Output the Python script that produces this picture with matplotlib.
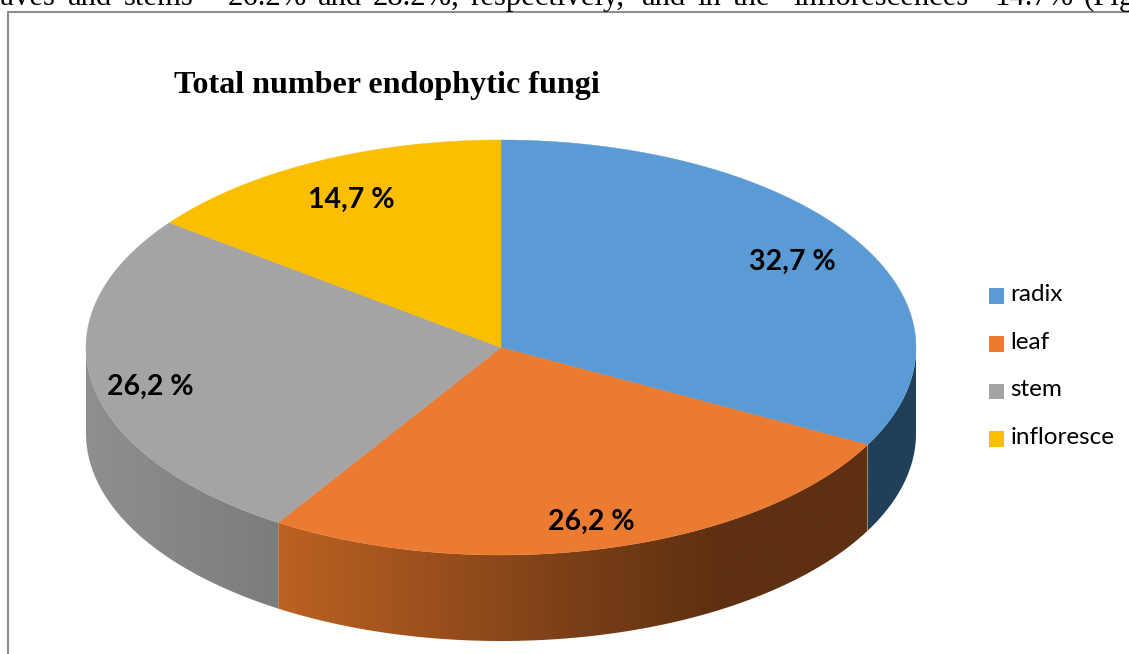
#!/usr/bin/env python3
"""Pseudo-3D pie of endophytic fungi by plant organ."""
import numpy as np
import matplotlib
matplotlib.use("Agg")
import matplotlib.pyplot as plt
from matplotlib.colors import LinearSegmentedColormap
from matplotlib.legend_handler import HandlerPatch
from matplotlib.patches import Patch, Polygon, Rectangle

categories = ["radix", "leaf", "stem", "infloresce"]
shares = [32.7, 26.2, 26.2, 14.7]
colors = ["#5B9BD5", "#EB7B30", "#A4A4A4", "#FCBE00"]
label_radius = [0.82, 0.857, 0.86, 0.81]
label_nudge = [2.5, 2, 8, 3]
# side wall shades, left to right
side_shades = [
    ["#213F58", "#213F58"],
    ["#BC6222", "#9C501D", "#7A3F17", "#5E3011", "#5E3011"],
    ["#8F8F8F", "#7C7C7C"],
    ["#000000", "#000000"],
]

title = "Total number endophytic fungi"
body_words = ["leaves", "and", "stems", "–", "26.2%", "and", "28.2%,", "respectively,",
              "and", "in", "the", "inflorescences", "–", "14.7%", "(Fig"]
# the running text is justified in the original, so each word has its own start
body_word_x = [-22, 68, 124, 203, 228, 318, 373, 470, 642, 697, 733, 793, 968, 994, 1084]

CX, CY, RX, RY, DEPTH = 501, 347.5, 415, 207.5, 86


def rim(a, b, dy=0, n=200):
    """Ellipse points between two angles, clockwise from 12 o'clock."""
    t = np.radians(np.linspace(a, b, n))
    return np.column_stack([CX + RX * np.sin(t), CY - RY * np.cos(t) + dy])


def low_square(legend, orig_handle, xdescent, ydescent, width, height, fontsize):
    # squares sit a little below the text baseline in the original
    return Rectangle((-xdescent, -ydescent - 2.5), width, height)


fig = plt.figure(figsize=(11.29, 6.54), dpi=100)
ax = fig.add_axes([0, 0, 1, 1])
ax.axis("off")

edges = np.concatenate([[0], np.cumsum(shares)]) / sum(shares) * 360

# side walls, only the front half shows
for i in range(len(shares)):
    a, b = max(edges[i], 90), min(edges[i + 1], 270)
    if a >= b:
        continue
    outline = np.vstack([rim(a, b), rim(b, a, DEPTH)])
    patch = Polygon(outline, closed=True, fc="none", ec="none")
    ax.add_patch(patch)
    cmap = LinearSegmentedColormap.from_list("side", side_shades[i])
    x0, x1 = outline[:, 0].min(), outline[:, 0].max()
    im = ax.imshow(np.linspace(0, 1, 256)[None, :], cmap=cmap, aspect="auto",
                   extent=[x0, x1, CY + RY + DEPTH + 1, CY - 1], zorder=1)
    im.set_clip_path(patch)

# top face
for i in range(len(shares)):
    pts = np.vstack([[CX, CY], rim(edges[i], edges[i + 1])])
    ax.add_patch(Polygon(pts, closed=True, fc=colors[i], ec=colors[i], lw=0.3, zorder=2))

for i, v in enumerate(shares):
    mid = np.radians((edges[i] + edges[i + 1]) / 2)
    ax.text(CX + label_radius[i] * RX * np.sin(mid),
            CY - label_radius[i] * RY * np.cos(mid) + label_nudge[i],
            f"{v:.1f} %".replace(".", ","), ha="center", va="center",
            fontsize=20.5, fontweight="bold", family="Lato", color="black", zorder=3)

# page around the chart
ax.plot([8, 8, 1129], [654, 12, 12], color="#8E8E8E", lw=1.5, zorder=4, solid_joinstyle="miter")
for word, x in zip(body_words, body_word_x):
    ax.text(x, 5, word, family="Liberation Serif", fontsize=22.1, color="black",
            va="baseline", ha="left", zorder=5)

ax.text(387, 85, title, family="Liberation Serif", fontsize=23.1, fontweight="bold",
        color="black", ha="center", va="center", zorder=5)

handles = [Patch(fc=c, ec="none") for c in colors]
leg = ax.legend(handles, categories, loc="upper left", bbox_to_anchor=(989 / 1129, 1 - 284 / 654),
                frameon=False, prop={"family": "Lato", "size": 17.5}, labelspacing=1.1,
                handlelength=0.62, handleheight=0.62, handletextpad=0.27,
                borderpad=0, borderaxespad=0,
                handler_map={Patch: HandlerPatch(patch_func=low_square)})
leg.set_zorder(5)

ax.set_xlim(0, 1129)
ax.set_ylim(654, 0)
fig.savefig("out.png", dpi=100)
